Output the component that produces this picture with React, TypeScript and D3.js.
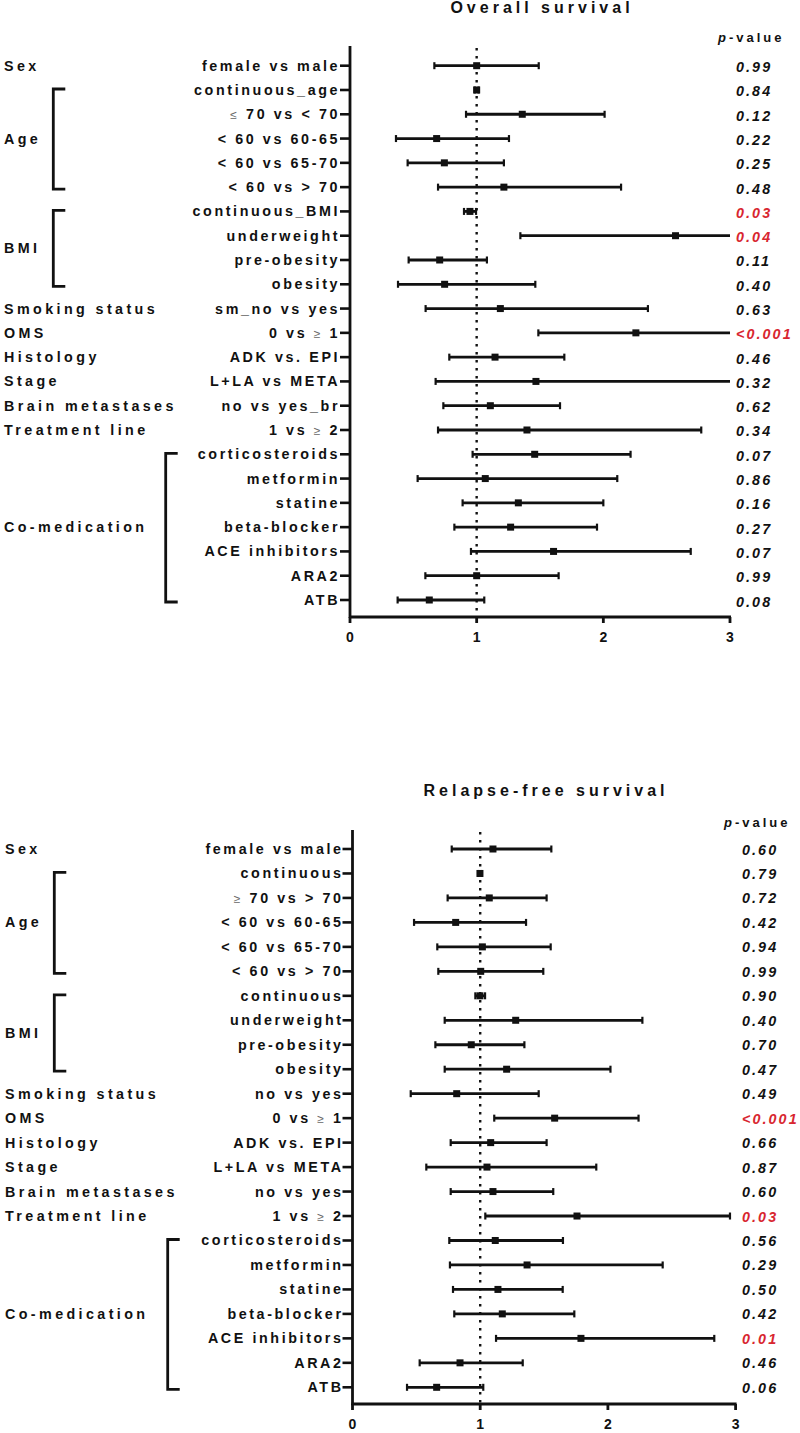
import React from "react";
import * as d3 from "d3";

// ---------- DATA ----------
const GROUP_NAMES = ["Sex", "Age", "BMI", "Smoking status", "OMS", "Histology", "Stage", "Brain metastases", "Treatment line", "Co-medication"];
const GROUP_FIRST = [0, 1, 6, 10, 11, 12, 13, 14, 15, 16];
const GROUP_LAST = [0, 5, 9, 10, 11, 12, 13, 14, 15, 22];

const OS_LABELS = ["female vs male", "continuous_age", "≤| 70 vs < 70", "< 60 vs 60-65", "< 60 vs 65-70", "< 60 vs > 70",
  "continuous_BMI", "underweight", "pre-obesity", "obesity", "sm_no vs yes", "0 vs |≥| 1", "ADK vs. EPI", "L+LA vs META",
  "no vs yes_br", "1 vs |≥| 2", "corticosteroids", "metformin", "statine", "beta-blocker", "ACE inhibitors", "ARA2", "ATB"];
const OS_EST = [1.0, 1.0, 1.36, 0.684, 0.745, 1.215, 0.947, 2.57, 0.708, 0.747, 1.187, 2.257, 1.145, 1.468, 1.108, 1.397, 1.458, 1.068, 1.329, 1.268, 1.607, 1.0, 0.626];
const OS_LO = [0.666, 0.985, 0.916, 0.363, 0.455, 0.695, 0.9, 1.345, 0.463, 0.379, 0.597, 1.487, 0.784, 0.676, 0.737, 0.695, 0.968, 0.534, 0.889, 0.824, 0.955, 0.595, 0.376];
const OS_HI = [1.49, 1.015, 2.01, 1.255, 1.215, 2.14, 0.995, 3.4, 1.081, 1.463, 2.352, 3.6, 1.692, 3.5, 1.658, 2.773, 2.215, 2.11, 2.0, 1.95, 2.69, 1.647, 1.06];
const OS_P = ["0.99", "0.84", "0.12", "0.22", "0.25", "0.48", "0.03", "0.04", "0.11", "0.40", "0.63", "<0.001", "0.46", "0.32", "0.62", "0.34", "0.07", "0.86", "0.16", "0.27", "0.07", "0.99", "0.08"];

const RFS_LABELS = ["female vs male", "continuous", "≥| 70 vs > 70", "< 60 vs 60-65", "< 60 vs 65-70", "< 60 vs > 70",
  "continuous", "underweight", "pre-obesity", "obesity", "no vs yes", "0 vs |≥| 1", "ADK vs. EPI", "L+LA vs META",
  "no vs yes", "1 vs |≥| 2", "corticosteroids", "metformin", "statine", "beta-blocker", "ACE inhibitors", "ARA2", "ATB"];
const RFS_EST = [1.1, 0.998, 1.071, 0.808, 1.017, 1.004, 0.998, 1.278, 0.93, 1.207, 0.816, 1.583, 1.082, 1.053, 1.1, 1.758, 1.118, 1.367, 1.139, 1.173, 1.789, 0.842, 0.659];
const RFS_LO = [0.777, 0.985, 0.745, 0.482, 0.664, 0.672, 0.962, 0.722, 0.649, 0.722, 0.456, 1.11, 0.769, 0.578, 0.769, 1.04, 0.758, 0.763, 0.787, 0.797, 1.124, 0.526, 0.427];
const RFS_HI = [1.557, 1.012, 1.52, 1.359, 1.552, 1.494, 1.038, 2.27, 1.346, 2.02, 1.458, 2.24, 1.52, 1.909, 1.572, 2.956, 1.648, 2.429, 1.646, 1.737, 2.833, 1.333, 1.024];
const RFS_P = ["0.60", "0.79", "0.72", "0.42", "0.94", "0.99", "0.90", "0.40", "0.70", "0.47", "0.49", "<0.001", "0.66", "0.87", "0.60", "0.03", "0.56", "0.29", "0.50", "0.42", "0.01", "0.46", "0.06"];

const X_TICKS = [0, 1, 2, 3];
const TITLES = ["Overall survival", "Relapse-free survival"];

// ---------- LAYOUT ----------
const PANELS = [
  { titleY: 13, pHeadY: 42, axisTop: 46, firstRow: 65.7, lastRow: 600, axisBottom: 617, x0: 350, x3: 730, pX: 736, groupX: 4, brX: [53.3, 165.7], labelEnd: 337.5, pDy: 6.5 },
  { titleY: 796, pHeadY: 826.5, axisTop: 830, firstRow: 849, lastRow: 1387.3, axisBottom: 1404, x0: 352.5, x3: 735.6, pX: 742, groupX: 5, brX: [54.3, 167.7], labelEnd: 341, pDy: 5.5 },
];

const FONT = "'Liberation Sans', Arial, Helvetica, sans-serif";
const RED = "#d8262f";
const SIG = (p: string) => p === "<0.001" || parseFloat(p) < 0.05;

function RowLabel({ text, x, y }: { text: string; x: number; y: number }) {
  const parts = text.split("|");
  const ls = 2.6;
  return (
    <text x={x + ls} y={y} textAnchor="end" fontFamily={FONT} fontWeight="bold" fontSize={14.3} letterSpacing={ls} fill="#111">
      {parts.map((p, i) =>
        p === "≤" || p === "≥" ? (
          <tspan key={i} fontWeight="normal" fontSize={12} fill="#666">{p}</tspan>
        ) : (
          <tspan key={i}>{p}</tspan>
        )
      )}
    </text>
  );
}

function Panel({ idx, labels, est, lo, hi, pv }: { idx: number; labels: string[]; est: number[]; lo: number[]; hi: number[]; pv: string[] }) {
  const L = PANELS[idx];
  const x = d3.scaleLinear().domain([0, 3]).range([L.x0, L.x3]);
  const y = d3.scaleLinear().domain([0, labels.length - 1]).range([L.firstRow, L.lastRow]);
  const sw = 2.8;
  const capH = 7;
  const sq = 7;
  return (
    <g>
      <text x={(L.x0 + L.x3) / 2 + 2} y={L.titleY} textAnchor="middle" fontFamily={FONT} fontWeight="bold" fontSize={16} letterSpacing={4} fill="#111">
        {TITLES[idx]}
      </text>
      <text x={L.pX - 18} y={L.pHeadY} fontFamily={FONT} fontWeight="bold" fontSize={13} letterSpacing={3} fill="#111">
        <tspan fontStyle="italic">p</tspan>-value
      </text>
      {/* axes */}
      <line x1={L.x0} x2={L.x0} y1={L.axisTop} y2={L.axisBottom + 1} stroke="#111" strokeWidth={2.8} />
      <line x1={L.x0 - 1} x2={L.x3 + 1} y1={L.axisBottom} y2={L.axisBottom} stroke="#111" strokeWidth={2.8} />
      {X_TICKS.map((t) => (
        <g key={t}>
          <line x1={x(t)} x2={x(t)} y1={L.axisBottom} y2={L.axisBottom + 6} stroke="#111" strokeWidth={2.8} />
          <text x={x(t)} y={L.axisBottom + 25} textAnchor="middle" fontFamily={FONT} fontWeight="bold" fontSize={14} fill="#111">{t}</text>
        </g>
      ))}
      {/* reference line */}
      <line x1={x(1)} x2={x(1)} y1={L.axisTop + 2} y2={L.axisBottom - 1} stroke="#111" strokeWidth={2.4} strokeDasharray="2.4 5.6" />
      {/* rows */}
      {labels.map((lab, i) => {
        const yy = y(i);
        const clipped = hi[i] > 3;
        const xl = x(lo[i]);
        const xh = x(Math.min(hi[i], 3));
        return (
          <g key={i}>
            <line x1={L.x0 - 10} x2={L.x0} y1={yy} y2={yy} stroke="#111" strokeWidth={2.6} />
            <RowLabel text={lab} x={L.labelEnd} y={yy + 5} />
            <line x1={xl} x2={xh} y1={yy} y2={yy} stroke="#111" strokeWidth={sw} />
            <line x1={xl} x2={xl} y1={yy - capH / 2} y2={yy + capH / 2} stroke="#111" strokeWidth={2.2} />
            {!clipped && <line x1={xh} x2={xh} y1={yy - capH / 2} y2={yy + capH / 2} stroke="#111" strokeWidth={2.2} />}
            <rect x={x(est[i]) - sq / 2} y={yy - sq / 2} width={sq} height={sq} fill="#111" />
            <text x={L.pX} y={yy + L.pDy} fontFamily={FONT} fontWeight="bold" fontStyle="italic" fontSize={14.3} letterSpacing={2.1} fill={SIG(pv[i]) ? RED : "#111"}>
              {pv[i]}
            </text>
          </g>
        );
      })}
      {/* group labels and brackets */}
      {GROUP_NAMES.map((g, gi) => {
        const a = GROUP_FIRST[gi];
        const b = GROUP_LAST[gi];
        const mid = (y(a) + y(b)) / 2;
        const bracket = a !== b;
        const bx = g === "Co-medication" ? L.brX[1] : L.brX[0];
        return (
          <g key={g}>
            <text x={L.groupX} y={mid + 5} fontFamily={FONT} fontWeight="bold" fontSize={14.3} letterSpacing={3.4} fill="#111">{g}</text>
            {bracket && (
              <path d={`M${bx + 12},${y(a) - 1}H${bx}V${y(b) + 2}H${bx + 12}`} fill="none" stroke="#111" strokeWidth={2.8} />
            )}
          </g>
        );
      })}
    </g>
  );
}

export default function App() {
  return (
    <svg width={800} height={1433} style={{ position: "absolute", left: 0, top: 0, background: "#fff" }}>
      <rect width={800} height={1433} fill="#fff" />
      <Panel idx={0} labels={OS_LABELS} est={OS_EST} lo={OS_LO} hi={OS_HI} pv={OS_P} />
      <Panel idx={1} labels={RFS_LABELS} est={RFS_EST} lo={RFS_LO} hi={RFS_HI} pv={RFS_P} />
    </svg>
  );
}
